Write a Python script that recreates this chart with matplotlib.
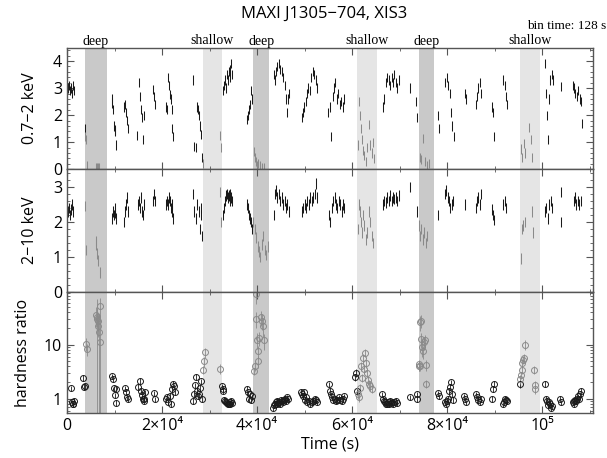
import numpy as np
import matplotlib
matplotlib.use('Agg')
import matplotlib.pyplot as plt
from matplotlib.ticker import MultipleLocator, FixedLocator, FixedFormatter, LogLocator, NullFormatter

plt.rcParams['font.family'] = ['Open Sans', 'DejaVu Sans']

# ---------------- data (time in ks) ----------------
deep_start = [3.8, 39.2, 74.0]
deep_end = [8.4, 42.6, 77.3]
shallow_start = [28.6, 61.1, 95.4]
shallow_end = [32.6, 65.2, 99.6]

soft_time = [0.3, 0.5, 0.7, 0.9, 1.1, 1.3, 1.5,
             3.7, 3.85, 4.0, 4.3, 6.2, 6.4, 6.6, 6.8,
             9.4, 9.5, 9.6, 9.8, 10.0, 10.2, 10.3,
             12.0, 12.2, 12.4, 12.6, 12.8,
             14.8, 15.1, 15.3, 15.5, 15.7, 15.9, 16.1,
             18.1, 18.3, 18.5,
             20.8, 21.0, 21.2, 21.4, 21.6, 21.8, 22.0, 22.2, 22.4,
             26.5, 26.8, 27.1, 27.4, 27.6, 27.8, 28.0, 28.2, 28.4, 28.6, 32.2, 32.45,
             32.8, 33.0, 33.2, 33.4, 33.6, 33.8, 34.0, 34.2, 34.4, 34.6, 34.8,
             37.8, 38.1, 38.3, 38.5, 38.7, 38.9,
             39.3, 39.5, 39.7, 40.0, 40.3, 40.6, 41.0, 41.4,
             43.6, 43.8, 44.0, 44.3, 44.6, 44.9, 45.2, 45.5, 45.8, 46.1, 46.3, 46.5, 46.7,
             49.4, 49.6, 49.9, 50.2, 50.5, 50.8, 51.1, 51.4, 51.7, 52.0, 52.3, 52.6,
             55.0, 55.3, 55.6, 55.9, 56.2, 56.5, 56.8, 57.1, 57.4, 57.7, 58.0, 58.3,
             61.2, 61.4, 61.6, 61.9, 62.1, 62.4, 62.6, 62.9, 63.2, 63.5, 63.8, 64.1, 64.4, 64.6,
             66.5, 66.8, 67.1, 67.4, 67.7, 68.0, 68.3, 68.6, 68.9, 69.2, 69.5, 69.8,
             72.2, 73.5, 73.7,
             74.2, 74.6, 75.0, 75.4, 75.8, 76.2,
             78.1, 78.3,
             79.6, 79.9, 80.2, 80.5, 80.8, 81.1, 81.4,
             83.7, 83.9,
             86.0, 86.3, 86.6, 86.9, 87.2,
             89.4, 89.6, 89.8,
             91.8, 92.1, 92.4, 92.7,
             95.6, 95.8, 96.1, 96.4, 97.3, 97.6, 97.9,
             100.6, 100.8, 101.0, 101.2, 101.4, 101.7, 102.0, 102.3,
             104.0,
             106.4, 106.7, 107.0, 107.3, 107.6, 107.9, 108.2, 108.4]
soft_rate = [3.0, 3.1, 2.9, 3.0, 2.8, 3.1, 2.9,
             1.5, 1.2, 1.1, 0.15, 0.06, 0.05, 0.07, 0.06,
             2.6, 2.45, 2.2, 1.6, 1.45, 1.4, 0.9,
             2.3, 2.4, 2.1, 1.8, 1.5,
             1.25, 3.2, 2.7, 2.2, 1.9, 1.1, 2.0,
             2.95, 2.7, 2.4,
             2.3, 2.2, 3.4, 3.1, 2.75, 2.6, 2.2, 1.5, 1.2,
             3.3, 0.85, 0.8, 2.3, 2.2, 2.0, 1.6, 1.3, 0.45, 0.2, 1.25, 0.8,
             2.9, 3.1, 3.3, 3.0, 3.5, 3.3, 3.6, 3.4, 3.7, 3.9, 3.5,
             1.85, 2.0, 2.2, 2.4, 2.9, 2.6,
             0.65, 0.45, 0.3, 0.15, 0.2, 0.12, 0.08, 0.06,
             3.5, 3.3, 3.6, 3.8, 3.9, 3.7, 3.6, 3.4, 3.1, 2.6, 2.1, 2.6, 2.8,
             1.9, 2.1, 2.3, 2.5, 2.8, 3.0, 2.9, 3.4, 3.6, 3.5, 3.3, 3.0,
             2.1, 2.3, 1.2, 2.7, 3.0, 3.2, 2.6, 2.8, 2.4, 2.5, 2.3, 2.6,
             0.9, 2.5, 2.0, 1.5, 1.1, 0.7, 0.5, 0.3, 0.8, 1.65, 0.9, 0.6, 1.0, 0.4,
             2.3, 2.6, 3.2, 3.4, 3.3, 3.1, 3.4, 3.2, 3.5, 3.2, 3.0, 3.3,
             3.0, 2.5, 1.9,
             0.45, 0.35, 1.15, 0.3, 0.15, 0.2,
             2.0, 1.5,
             3.2, 3.4, 3.1, 2.8, 2.1, 1.6, 1.2,
             2.8, 2.6,
             2.4, 2.7, 3.0, 3.2, 2.8,
             2.3, 2.1, 1.2,
             3.3, 3.1, 2.7, 2.4,
             0.75, 0.45, 0.95, 0.6, 1.55, 1.1, 0.45,
             3.9, 2.8, 2.0, 1.1, 2.6, 3.3, 3.5, 3.3,
             3.05,
             3.1, 3.0, 2.8, 2.7, 2.9, 2.6, 2.5, 1.7]
soft_err = 0.17

hard_time = [0.3, 0.5, 0.7, 0.9, 1.1, 1.3,
             3.8, 4.1, 6.0, 6.2, 6.4, 6.6, 6.9,
             9.4, 9.6, 9.8, 10.0, 10.2, 10.4,
             12.0, 12.2, 12.4, 12.6, 12.8,
             14.9, 15.1, 15.3, 15.5, 15.7, 15.9, 16.1,
             18.1, 18.3, 18.5,
             20.8, 21.0, 21.2, 21.4, 21.6, 21.8, 22.0, 22.2, 22.4,
             26.5, 26.8, 27.1, 27.4, 27.7, 27.9, 28.1, 28.3, 28.5,
             32.2, 32.5,
             32.8, 33.0, 33.2, 33.4, 33.6, 33.8, 34.0, 34.2, 34.4, 34.6, 34.8,
             37.9, 38.1, 38.3, 38.5, 38.7, 38.9,
             39.2, 39.5, 39.8, 40.1, 40.4, 40.7, 41.0, 41.3, 41.6, 41.9, 42.2,
             43.6, 43.8, 44.0, 44.3, 44.6, 44.9, 45.2, 45.5, 45.8, 46.1, 46.4, 46.7,
             49.4, 49.7, 50.0, 50.3, 50.6, 50.9, 51.2, 51.5, 51.8, 52.1, 52.4, 52.7,
             55.2, 55.4, 55.7, 56.0, 56.3, 56.6, 56.9, 57.2, 57.5, 57.8, 58.1, 58.4,
             61.2, 61.4, 61.6, 61.9, 62.1, 62.4, 62.6, 62.9, 63.2, 63.5, 63.8, 64.1, 64.4,
             66.5, 66.8, 67.1, 67.4, 67.7, 68.0, 68.3, 68.6, 68.9, 69.2, 69.5, 69.8,
             72.2, 73.6,
             74.0, 74.3, 74.6, 74.9, 75.2, 75.5, 75.8,
             78.0,
             79.6, 79.8, 80.1, 80.4, 80.7, 81.0, 81.3,
             83.8,
             86.0, 86.3, 86.6, 86.9, 87.2,
             89.4, 89.6, 89.8,
             91.8, 92.1, 92.4,
             95.5, 95.8, 96.0, 96.3, 97.8, 98.1,
             100.6, 100.9, 101.2, 101.5, 101.8, 102.1,
             103.9, 104.0,
             106.6, 106.9, 107.2, 107.5, 107.8, 108.1]
hard_rate = [2.3, 2.4, 2.2, 2.35, 2.5, 2.3,
             2.45, 1.2, 1.45, 1.35, 1.1, 0.9, 0.55,
             2.1, 2.3, 2.2, 2.4, 2.25, 2.1,
             2.0, 2.3, 2.5, 2.7, 2.3,
             2.5, 2.6, 2.4, 2.7, 2.3, 2.2, 2.5,
             2.6, 2.8, 2.6,
             2.5, 2.6, 2.5, 2.7, 2.6, 2.4, 2.5, 2.3, 2.1,
             2.8, 2.3, 2.1, 2.5, 2.3, 1.8, 2.4, 2.2, 1.6,
             2.85, 2.0,
             2.2, 2.4, 2.6, 2.75, 2.8, 2.7, 2.75, 2.6, 2.8, 2.7, 2.6,
             2.5, 2.4, 2.2, 2.1, 2.0, 1.8,
             2.0, 1.8, 1.55, 1.3, 1.15, 1.0, 1.35, 1.6, 1.2, 1.05, 1.3,
             2.2, 2.8, 2.9, 2.7, 2.8, 2.6, 2.7, 2.5, 2.6, 2.4, 2.5, 2.3,
             2.3, 2.4, 2.5, 2.4, 2.6, 2.5, 2.7, 2.6, 2.7, 2.8, 3.1, 2.7,
             2.2, 2.0, 2.4, 2.6, 2.7, 2.5, 2.4, 2.6, 2.5, 2.3, 2.5, 2.4,
             1.8, 2.5, 2.3, 2.0, 1.7, 2.2, 1.9, 1.5, 1.7, 2.3, 2.0, 1.6, 1.4,
             2.5, 2.6, 2.55, 2.7, 2.6, 2.75, 2.6, 2.7, 2.65, 2.7, 2.6, 2.75,
             3.0, 2.3,
             1.9, 1.6, 1.8, 1.5, 1.7, 1.4, 1.6,
             2.2,
             2.8, 2.9, 2.7, 2.6, 2.4, 2.5, 2.6,
             2.5,
             2.4, 2.6, 2.7, 2.5, 2.8,
             2.35, 2.2, 2.05,
             2.5, 2.6, 2.4,
             0.95, 1.8, 1.9, 2.0, 2.3, 1.7,
             2.3, 2.4, 2.1, 2.5, 2.6, 2.4,
             2.85, 2.0,
             2.6, 2.7, 2.5, 2.6, 2.5, 2.6]
hard_err = 0.15

hr_time = [0.9, 1.1, 1.2, 1.3, 1.5,
           3.4, 3.6, 3.7,
           9.5, 9.7, 9.9, 10.1, 10.3, 10.4,
           12.2, 12.4, 12.6, 12.8,
           15.0, 15.3, 15.5, 15.7, 15.9, 16.1, 16.3, 16.5,
           18.3, 18.5,
           20.8, 21.0, 21.3, 21.6, 21.9, 22.1, 22.3, 22.5, 22.7,
           26.5, 26.8, 27.0, 27.2, 27.4, 27.6, 27.8, 28.0, 28.2, 28.4,
           32.7, 32.8, 32.9, 33.0, 33.2, 33.4, 33.6, 33.8, 34.0, 34.2, 34.4, 34.6, 34.8,
           37.9, 38.1, 38.3, 38.5, 38.7, 38.9,
           43.3, 43.5, 43.7, 43.9, 44.1, 44.3, 44.5, 44.7, 44.9, 45.1, 45.3, 45.5, 45.7, 45.9, 46.1, 46.3, 46.5,
           49.2, 49.4, 49.6, 49.8, 50.0, 50.3, 50.6, 50.9, 51.2, 51.5, 51.8, 52.1, 52.4, 52.7,
           55.2, 55.4, 55.6, 55.8, 56.0, 56.3, 56.6, 56.9, 57.2, 57.5, 57.8, 58.1, 58.4,
           66.3, 66.5, 66.7, 66.9, 67.1, 67.3, 67.5, 67.7, 67.9, 68.1, 68.3, 68.6, 68.9, 69.2, 69.5,
           72.2, 73.6, 73.75,
           78.0, 78.2,
           79.6, 79.8, 80.0, 80.2, 80.4, 80.6, 80.8, 81.0, 81.2,
           83.5, 83.7, 83.9,
           86.0, 86.3, 86.6, 86.9, 87.2,
           89.5, 89.7, 89.9,
           91.8, 92.0, 92.2, 92.4, 92.6,
           100.7, 100.9, 101.1, 101.3, 101.5, 101.7, 101.9, 102.1,
           103.8, 104.0,
           106.4, 106.6, 106.8, 107.0, 107.2, 107.4, 107.6, 107.8, 108.0, 108.2]
hr_value = [1.55, 0.85, 0.78, 0.8, 0.9,
            2.4, 1.65, 1.7,
            2.6, 2.3, 1.55, 1.15, 0.83, 1.5,
            1.55, 1.35, 1.05, 1.0,
            1.65, 2.15, 1.4, 1.15, 0.97, 0.9, 1.0, 1.3,
            1.25, 0.97,
            0.97, 1.05, 0.85, 1.12, 0.8, 1.5, 1.9, 1.7, 1.3,
            0.9, 1.2, 1.75, 2.5, 1.4, 1.1, 1.2, 1.6, 2.1, 1.0,
            1.7, 1.5, 1.4, 0.95, 0.9, 0.85, 0.82, 0.8, 0.78, 0.85, 0.8, 0.9, 0.82,
            1.5, 1.3, 1.0, 1.2, 0.95, 1.1,
            0.68, 0.75, 0.8, 0.85, 0.78, 0.9, 0.82, 0.88, 0.8, 0.95, 0.9, 0.85, 0.95, 1.0, 0.92, 1.05, 0.97,
            1.35, 1.2, 1.1, 1.3, 0.95, 1.05, 0.85, 0.9, 0.8, 0.85, 0.9, 1.0, 0.95, 0.85,
            1.85, 1.4, 1.2, 1.05, 0.95, 1.0, 0.9, 0.95, 1.05, 0.95, 0.9, 1.0, 1.1,
            1.2, 1.0, 0.9, 0.85, 0.8, 0.78, 0.85, 0.8, 0.9, 0.82, 0.88, 0.8, 0.85, 0.9, 0.82,
            1.05, 1.2, 1.0,
            1.25, 1.1,
            0.85, 0.8, 0.9, 1.0, 1.4, 1.65, 2.0, 1.2, 0.95,
            1.1, 0.97, 0.85,
            1.2, 1.05, 0.95, 0.85, 1.0,
            1.0, 1.5, 1.9,
            0.78, 0.85, 1.0, 0.95, 0.9,
            1.9, 1.0, 0.9, 0.75, 0.85, 0.8, 0.68, 0.72,
            1.0, 0.85,
            0.85, 0.9, 0.8, 0.95, 0.9, 1.0, 1.1, 1.0, 1.2, 1.4]
hr_relerr = 0.12

# points inside dips with their own (larger) errors
hrdip_time = [4.0, 4.2, 6.2, 6.3, 6.4, 6.5, 6.6, 6.7, 6.9, 7.0,
              28.7, 28.8, 29.0, 32.2,
              39.3, 39.5, 39.7, 39.8, 39.9, 40.1, 40.3, 40.5, 40.8, 41.0, 41.2, 41.4,
              60.7, 60.8, 61.0, 61.2, 61.4, 61.6, 61.9, 62.1, 62.3, 62.5, 62.7, 62.9, 63.1, 63.3, 63.5, 63.8, 64.1,
              74.0, 74.1, 74.2, 74.3, 74.4, 74.5, 74.7, 74.9, 75.1, 75.3, 75.5, 75.6,
              95.3, 95.4, 95.5, 95.7, 95.8, 96.0, 96.1, 96.3, 98.2, 98.4, 98.5]
hrdip_value = [10.5, 8.2, 36, 33, 30, 28, 22, 17, 11, 52,
               3.4, 4.9, 7.2, 3.6,
               3.2, 4.0, 30, 88, 12.4, 7.6, 4.9, 13.5, 32, 28, 22, 12,
               2.5, 3.0, 1.4, 1.2, 1.05, 1.6, 4.0, 2.4, 5.6, 3.5, 7.0, 4.5, 3.0, 2.2, 1.9, 1.7, 1.5,
               4.3, 4.1, 4.0, 26, 28, 12.5, 9, 7.5, 11, 12, 4.2, 1.9,
               1.9, 2.3, 2.7, 3.4, 4.6, 5.2, 5.6, 10, 3.4, 1.8, 1.5]
hrdip_err = [3.0, 2.0, 15, 12, 40, 10, 8, 20, 25, 20,
             0.6, 1.0, 1.5, 0.8,
             0.5, 0.8, 10, 30, 4, 2, 1.2, 4, 10, 9, 8, 4,
             0.4, 0.5, 0.2, 0.2, 0.2, 0.3, 0.8, 0.4, 1.0, 0.6, 1.2, 0.8, 0.5, 0.4, 0.3, 0.3, 0.25,
             1.0, 0.8, 0.7, 8, 8, 4, 3, 2, 3, 3, 1.0, 0.3,
             0.3, 0.4, 0.4, 0.6, 0.8, 0.9, 1.0, 2.0, 0.6, 0.3, 0.3]

xtick_values = [0, 20000, 40000, 60000, 80000, 100000]
xtick_labels = ['0', '2×10⁴', '4×10⁴', '6×10⁴', '8×10⁴', '10⁵']

# ---------------- helpers ----------------
def in_dip(t):
    for s, e in zip(deep_start + shallow_start, deep_end + shallow_end):
        if s <= t <= e:
            return True
    return False

def colors_for(times):
    return ['#8a8a8a' if in_dip(t) else '#1a1a1a' for t in times]

SPINE = '#555555'

fig = plt.figure(figsize=(6.07, 4.58), dpi=100)
L, R = 67 / 607, 593 / 607
def fy(p):
    return 1 - p / 458
ax1 = fig.add_axes([L, fy(169.3), R - L, fy(47.5) - fy(169.3)])
ax2 = fig.add_axes([L, fy(292), R - L, fy(169.3) - fy(292)], sharex=ax1)
ax3 = fig.add_axes([L, fy(413), R - L, fy(292) - fy(413)], sharex=ax1)

for ax in (ax1, ax2, ax3):
    for s, e in zip(deep_start, deep_end):
        ax.axvspan(s * 1000, e * 1000, color='#c9c9c9', lw=0, zorder=0)
    for s, e in zip(shallow_start, shallow_end):
        ax.axvspan(s * 1000, e * 1000, color='#e5e5e5', lw=0, zorder=0)
    for sp in ax.spines.values():
        sp.set_color(SPINE)
        sp.set_linewidth(1.0)
    ax.tick_params(which='both', direction='in', top=True, right=True, colors=SPINE,
                   labelcolor='black', labelsize=11.5)
    ax.tick_params(which='major', length=5, width=0.8)
    ax.tick_params(which='minor', length=2.5, width=0.6)
    ax.xaxis.set_major_locator(FixedLocator(xtick_values))
    ax.xaxis.set_minor_locator(MultipleLocator(10000))

# panel 1
st = np.array(soft_time) * 1000
sr = np.array(soft_rate)
ax1.vlines(st, np.clip(sr - soft_err, 0, None), sr + soft_err, colors=colors_for(soft_time), lw=0.75)
ax1.set_ylim(0, 4.5)
ax1.yaxis.set_major_locator(MultipleLocator(1))
ax1.yaxis.set_minor_locator(MultipleLocator(0.2))
ax1.set_ylabel('0.7−2 keV', fontsize=11.5, labelpad=11)

# panel 2
ht = np.array(hard_time) * 1000
hv = np.array(hard_rate)
ax2.vlines(ht, hv - hard_err, hv + hard_err, colors=colors_for(hard_time), lw=0.75)
ax2.set_ylim(0, 3.5)
ax2.yaxis.set_major_locator(MultipleLocator(1))
ax2.yaxis.set_minor_locator(MultipleLocator(0.2))
ax2.set_ylabel('2−10 keV', fontsize=11.5, labelpad=11)

# panel 3
ax3.set_yscale('log')
for tt, vv, ee in ((hr_time, hr_value, [v * hr_relerr for v in hr_value]),
                   (hrdip_time, hrdip_value, hrdip_err)):
    cols = colors_for(tt)
    for t, v, e, c in zip(tt, vv, ee, cols):
        ax3.errorbar([t * 1000], [v], yerr=[[min(e, v * 0.999)], [e]], fmt='o', ms=4.3,
                     mfc='none', mec=c, mew=0.7, ecolor=c, elinewidth=0.6, capsize=0)
ax3.set_ylim(0.54, 95)
ax3.yaxis.set_major_locator(FixedLocator([1, 10]))
ax3.yaxis.set_major_formatter(FixedFormatter(['1', '10']))
ax3.yaxis.set_minor_locator(LogLocator(base=10, subs=np.arange(2, 10)))
ax3.yaxis.set_minor_formatter(NullFormatter())
ax3.set_ylabel('hardness ratio', fontsize=11.5, labelpad=9)

ax3.set_xlim(0, 110700)
ax3.xaxis.set_major_formatter(FixedFormatter(xtick_labels))
ax3.set_xlabel('Time (s)', fontsize=11.5, labelpad=2)
plt.setp(ax1.get_xticklabels(), visible=False)
plt.setp(ax2.get_xticklabels(), visible=False)

# labels above the top panel
for s, e in zip(deep_start, deep_end):
    ax1.text((s + e) / 2 * 1000, 1.0, 'deep', transform=ax1.get_xaxis_transform(),
             ha='center', va='bottom', fontsize=10, family='Liberation Serif')
for s, e in zip(shallow_start, shallow_end):
    ax1.text((s + e) / 2 * 1000, 1.0, 'shallow', transform=ax1.get_xaxis_transform(),
             ha='center', va='bottom', fontsize=10, family='Liberation Serif')

fig.text(324 / 607, fy(14), 'MAXI J1305−704, XIS3', ha='center', va='center', fontsize=12)
fig.text(0.998, fy(26), 'bin time: 128 s', ha='right', va='center', fontsize=9.5,
         family='Liberation Serif')

fig.savefig('out.png', dpi=100)
